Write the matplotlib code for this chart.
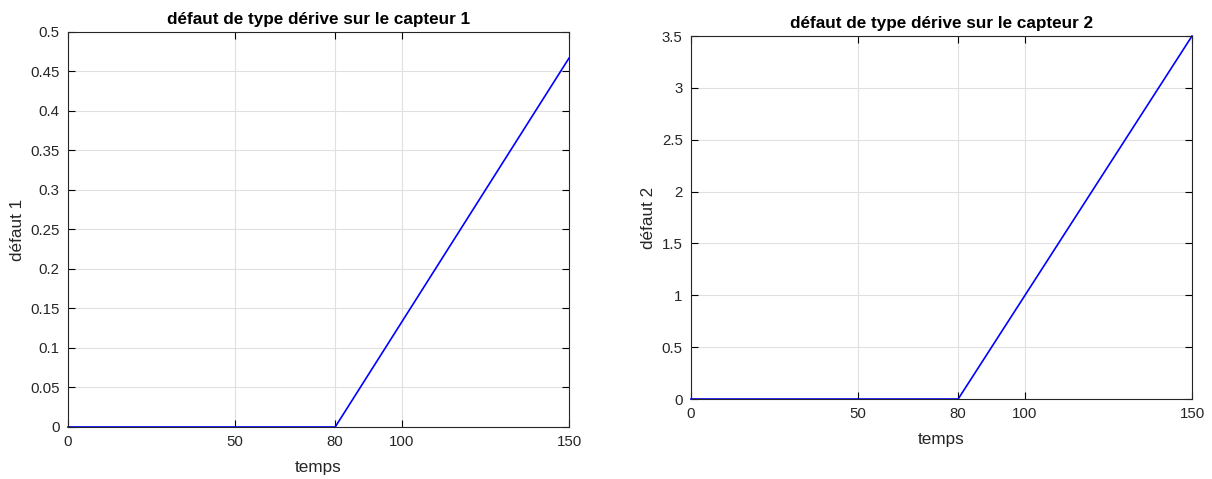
import matplotlib
matplotlib.use("Agg")
import matplotlib.pyplot as plt
import matplotlib.ticker as mtick
import numpy as np

plt.rcParams["font.family"] = ["Liberation Sans", "DejaVu Sans"]

# donnees
temps = [0, 80, 150]
defaut1 = [0, 0, 0.467]
defaut2 = [0, 0, 3.5]
xticks = [0, 50, 80, 100, 150]
yticks1 = np.arange(0, 0.5001, 0.05)
yticks2 = np.arange(0, 3.5001, 0.5)

fig = plt.figure(figsize=(12.12, 4.79), dpi=100)
ax1 = fig.add_axes([0.0561, 0.1086, 0.4134, 0.8246])
ax2 = fig.add_axes([0.5701, 0.167, 0.4134, 0.7578])


def style_axes(ax, yticks, ymax, title, ylabel):
    ax.set_xlim(0, 150)
    ax.set_ylim(0, ymax)
    ax.set_xticks(xticks)
    ax.set_yticks(yticks)
    ax.yaxis.set_major_formatter(mtick.FuncFormatter(lambda v, p: "%g" % round(v, 4)))
    ax.grid(True, color="#e0e0e0", linewidth=0.8)
    ax.set_axisbelow(True)
    ax.tick_params(direction="in", top=True, right=True, length=5,
                   labelsize=10.8, labelcolor="#262626", pad=6)
    for s in ax.spines.values():
        s.set_color("#262626")
        s.set_linewidth(0.8)
    ax.set_title(title, fontsize=12.3, fontweight="bold", pad=6)
    ax.set_xlabel("temps", fontsize=12.3, color="#262626", labelpad=8)
    ax.set_ylabel(ylabel, fontsize=12.3, color="#262626", labelpad=4)


ax1.plot(temps, defaut1, color="blue", linewidth=1.2, clip_on=False)
style_axes(ax1, yticks1, 0.5, "défaut de type dérive sur le capteur 1", "défaut 1")

ax2.plot(temps, defaut2, color="blue", linewidth=1.2, clip_on=False)
style_axes(ax2, yticks2, 3.5, "défaut de type dérive sur le capteur 2", "défaut 2")

plt.savefig("out.png", dpi=100)
plt.close()
